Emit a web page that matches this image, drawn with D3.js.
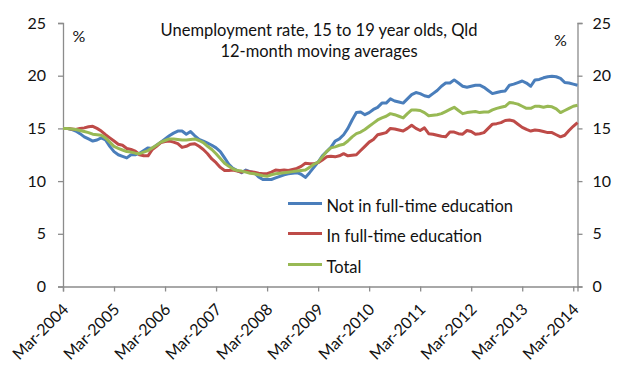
<!DOCTYPE html>
<html>
<head>
<meta charset="utf-8">
<script src="https://cdn.jsdelivr.net/npm/d3@7/dist/d3.min.js"></script>
<style>
  html, body { margin: 0; padding: 0; background: #fff; }
  svg { display: block; }
  text { font-family: Lato, "Open Sans", sans-serif; fill: #111; }
</style>
</head>
<body>
<svg id="chart" width="639" height="384"></svg>
<script>
// ---- Data (monthly, Mar-2004 .. Apr-2014) ----
const seriesNames = ["Not in full-time education", "In full-time education", "Total"];
const notInFT = [
  15.0,15.0,14.9,14.75,14.5,14.2,14.0,13.8,13.9,14.1,13.9,13.3,
  12.8,12.5,12.35,12.2,12.5,12.5,12.65,12.9,13.15,13.1,13.4,13.7,
  14.0,14.3,14.55,14.75,14.75,14.45,14.7,14.3,13.95,13.8,13.6,13.4,
  13.15,12.8,12.2,11.6,11.2,11.0,10.8,11.05,10.9,10.8,10.4,10.15,
  10.15,10.15,10.3,10.45,10.6,10.7,10.75,10.8,10.65,10.35,10.8,11.3,
  11.8,12.4,12.8,13.2,13.8,14.0,14.4,15.0,15.8,16.5,16.55,16.3,
  16.5,16.8,17.0,17.4,17.4,17.8,17.6,17.5,17.4,17.8,18.2,18.4,
  18.3,18.1,18.0,18.3,18.6,19.0,19.3,19.3,19.6,19.3,19.0,18.9,
  19.0,19.1,19.1,18.9,18.6,18.3,18.4,18.5,18.55,19.1,19.2,19.35,
  19.5,19.3,19.0,19.6,19.65,19.8,19.9,19.95,19.9,19.75,19.35,19.3,
  19.2,19.1
];
const inFT = [
  15.0,15.0,14.95,14.9,15.0,15.05,15.15,15.2,15.0,14.75,14.4,14.1,
  13.8,13.5,13.4,13.1,13.0,12.85,12.5,12.4,12.4,13.0,13.3,13.65,
  13.75,13.8,13.7,13.55,13.2,13.3,13.5,13.55,13.3,13.0,12.6,12.1,
  11.75,11.3,11.0,11.0,11.05,10.95,10.85,10.95,10.9,10.85,10.75,10.7,
  10.7,10.85,11.05,11.0,11.05,11.0,11.1,11.2,11.4,11.7,11.65,11.65,
  11.75,12.0,12.3,12.35,12.3,12.4,12.6,12.4,12.45,12.5,12.9,13.3,
  13.7,13.95,14.4,14.5,14.6,15.0,14.95,14.85,14.75,15.0,15.3,15.0,
  14.8,15.05,14.5,14.45,14.35,14.25,14.2,14.65,14.65,14.5,14.45,14.8,
  14.7,14.45,14.5,14.6,15.0,15.4,15.45,15.55,15.75,15.8,15.7,15.4,
  15.1,14.9,14.75,14.85,14.8,14.7,14.6,14.6,14.4,14.2,14.35,14.8,
  15.2,15.55
];
const total = [
  15.0,15.0,14.95,14.9,14.8,14.7,14.6,14.45,14.4,14.35,14.1,13.7,
  13.3,13.1,12.95,12.8,12.75,12.65,12.6,12.75,12.9,13.15,13.4,13.7,
  13.85,14.0,14.0,13.95,13.9,13.9,13.95,14.0,13.85,13.65,13.3,13.0,
  12.6,12.15,11.7,11.4,11.15,11.0,10.95,10.85,10.75,10.7,10.6,10.5,
  10.45,10.6,10.7,10.75,10.8,10.85,10.9,10.95,11.0,11.05,11.3,11.6,
  11.8,12.3,12.8,13.15,13.25,13.4,13.5,13.8,14.2,14.5,14.65,14.9,
  15.2,15.5,15.8,16.0,16.15,16.4,16.3,16.15,16.0,16.4,16.75,16.75,
  16.7,16.5,16.2,16.25,16.3,16.4,16.6,16.8,17.0,16.7,16.4,16.5,
  16.55,16.6,16.5,16.55,16.55,16.75,16.9,17.0,17.1,17.45,17.4,17.3,
  17.1,16.9,16.9,17.1,17.1,17.0,17.1,17.05,16.85,16.5,16.7,16.9,
  17.1,17.2
];
const xTickLabels = ["Mar-2004","Mar-2005","Mar-2006","Mar-2007","Mar-2008","Mar-2009",
                     "Mar-2010","Mar-2011","Mar-2012","Mar-2013","Mar-2014"];
const yTicks = [0, 5, 10, 15, 20, 25];
const titleLines = ["Unemployment rate, 15 to 19 year olds, Qld", "12-month moving averages"];
const colors = ["#4A7EBB", "#BE4B48", "#98B954"];

// ---- Layout ----
const svg = d3.select("#chart");
const plotL = 63, plotR = 577.5, plotT = 23, plotB = 286.5;
const axisColor = "#8C8C8C";
const fs = "16px";
const fsBig = "16.5px";

const x = d3.scaleLinear().domain([0, notInFT.length - 1]).range([plotL, plotR]);
const y = d3.scaleLinear().domain([0, 25]).range([plotB, plotT]);

// Left axis
const gl = svg.append("g").attr("transform", `translate(${plotL},0)`)
  .call(d3.axisLeft(y).tickValues(yTicks).tickSize(5).tickPadding(12).tickFormat(d3.format("d")));
// Right axis
const gr = svg.append("g").attr("transform", `translate(${plotR},0)`)
  .call(d3.axisRight(y).tickValues(yTicks).tickSize(5).tickPadding(10).tickFormat(d3.format("d")));
// Bottom axis
const xTickVals = xTickLabels.map((d, i) => i * 12);
const gb = svg.append("g").attr("transform", `translate(0,${plotB})`)
  .call(d3.axisBottom(x).tickValues(xTickVals).tickSize(5).tickFormat((d, i) => xTickLabels[i]));

[gl, gr, gb].forEach(g => {
  g.select(".domain").attr("stroke", axisColor).attr("stroke-width", 1.3);
  g.selectAll(".tick line").attr("stroke", axisColor).attr("stroke-width", 1.3);
  g.selectAll(".tick text").attr("fill", "#111").style("font-size", fs)
    .style("font-family", "Lato, 'Open Sans', sans-serif");
});
gb.selectAll(".tick text")
  .attr("text-anchor", "end")
  .attr("dy", null)
  .attr("y", null)
  .attr("transform", "translate(6,24) rotate(-45)");

// Lines
const line = d3.line().x((d, i) => x(i)).y(d => y(d));
[notInFT, inFT, total].forEach((s, k) => {
  svg.append("path").datum(s)
    .attr("fill", "none")
    .attr("stroke", colors[k])
    .attr("stroke-width", 3)
    .attr("stroke-linejoin", "round")
    .attr("d", line);
});

// Title
svg.append("text").attr("x", 319).attr("y", 36).attr("text-anchor", "middle")
  .style("font-size", fsBig).text(titleLines[0]);
svg.append("text").attr("x", 319).attr("y", 56.5).attr("text-anchor", "middle")
  .style("font-size", fsBig).text(titleLines[1]);

// Percent units
svg.append("text").attr("x", 72.5).attr("y", 42).style("font-size", fs).text("%");
svg.append("text").attr("x", 554).attr("y", 46).style("font-size", fs).text("%");

// Legend
const legY = [203.5, 233.5, 264.5];
seriesNames.forEach((n, k) => {
  svg.append("line").attr("x1", 288).attr("x2", 322).attr("y1", legY[k]).attr("y2", legY[k])
    .attr("stroke", colors[k]).attr("stroke-width", 3);
  svg.append("text").attr("x", 326.5).attr("y", legY[k] + 8)
    .style("font-size", fsBig).text(n);
});
</script>
</body>
</html>
